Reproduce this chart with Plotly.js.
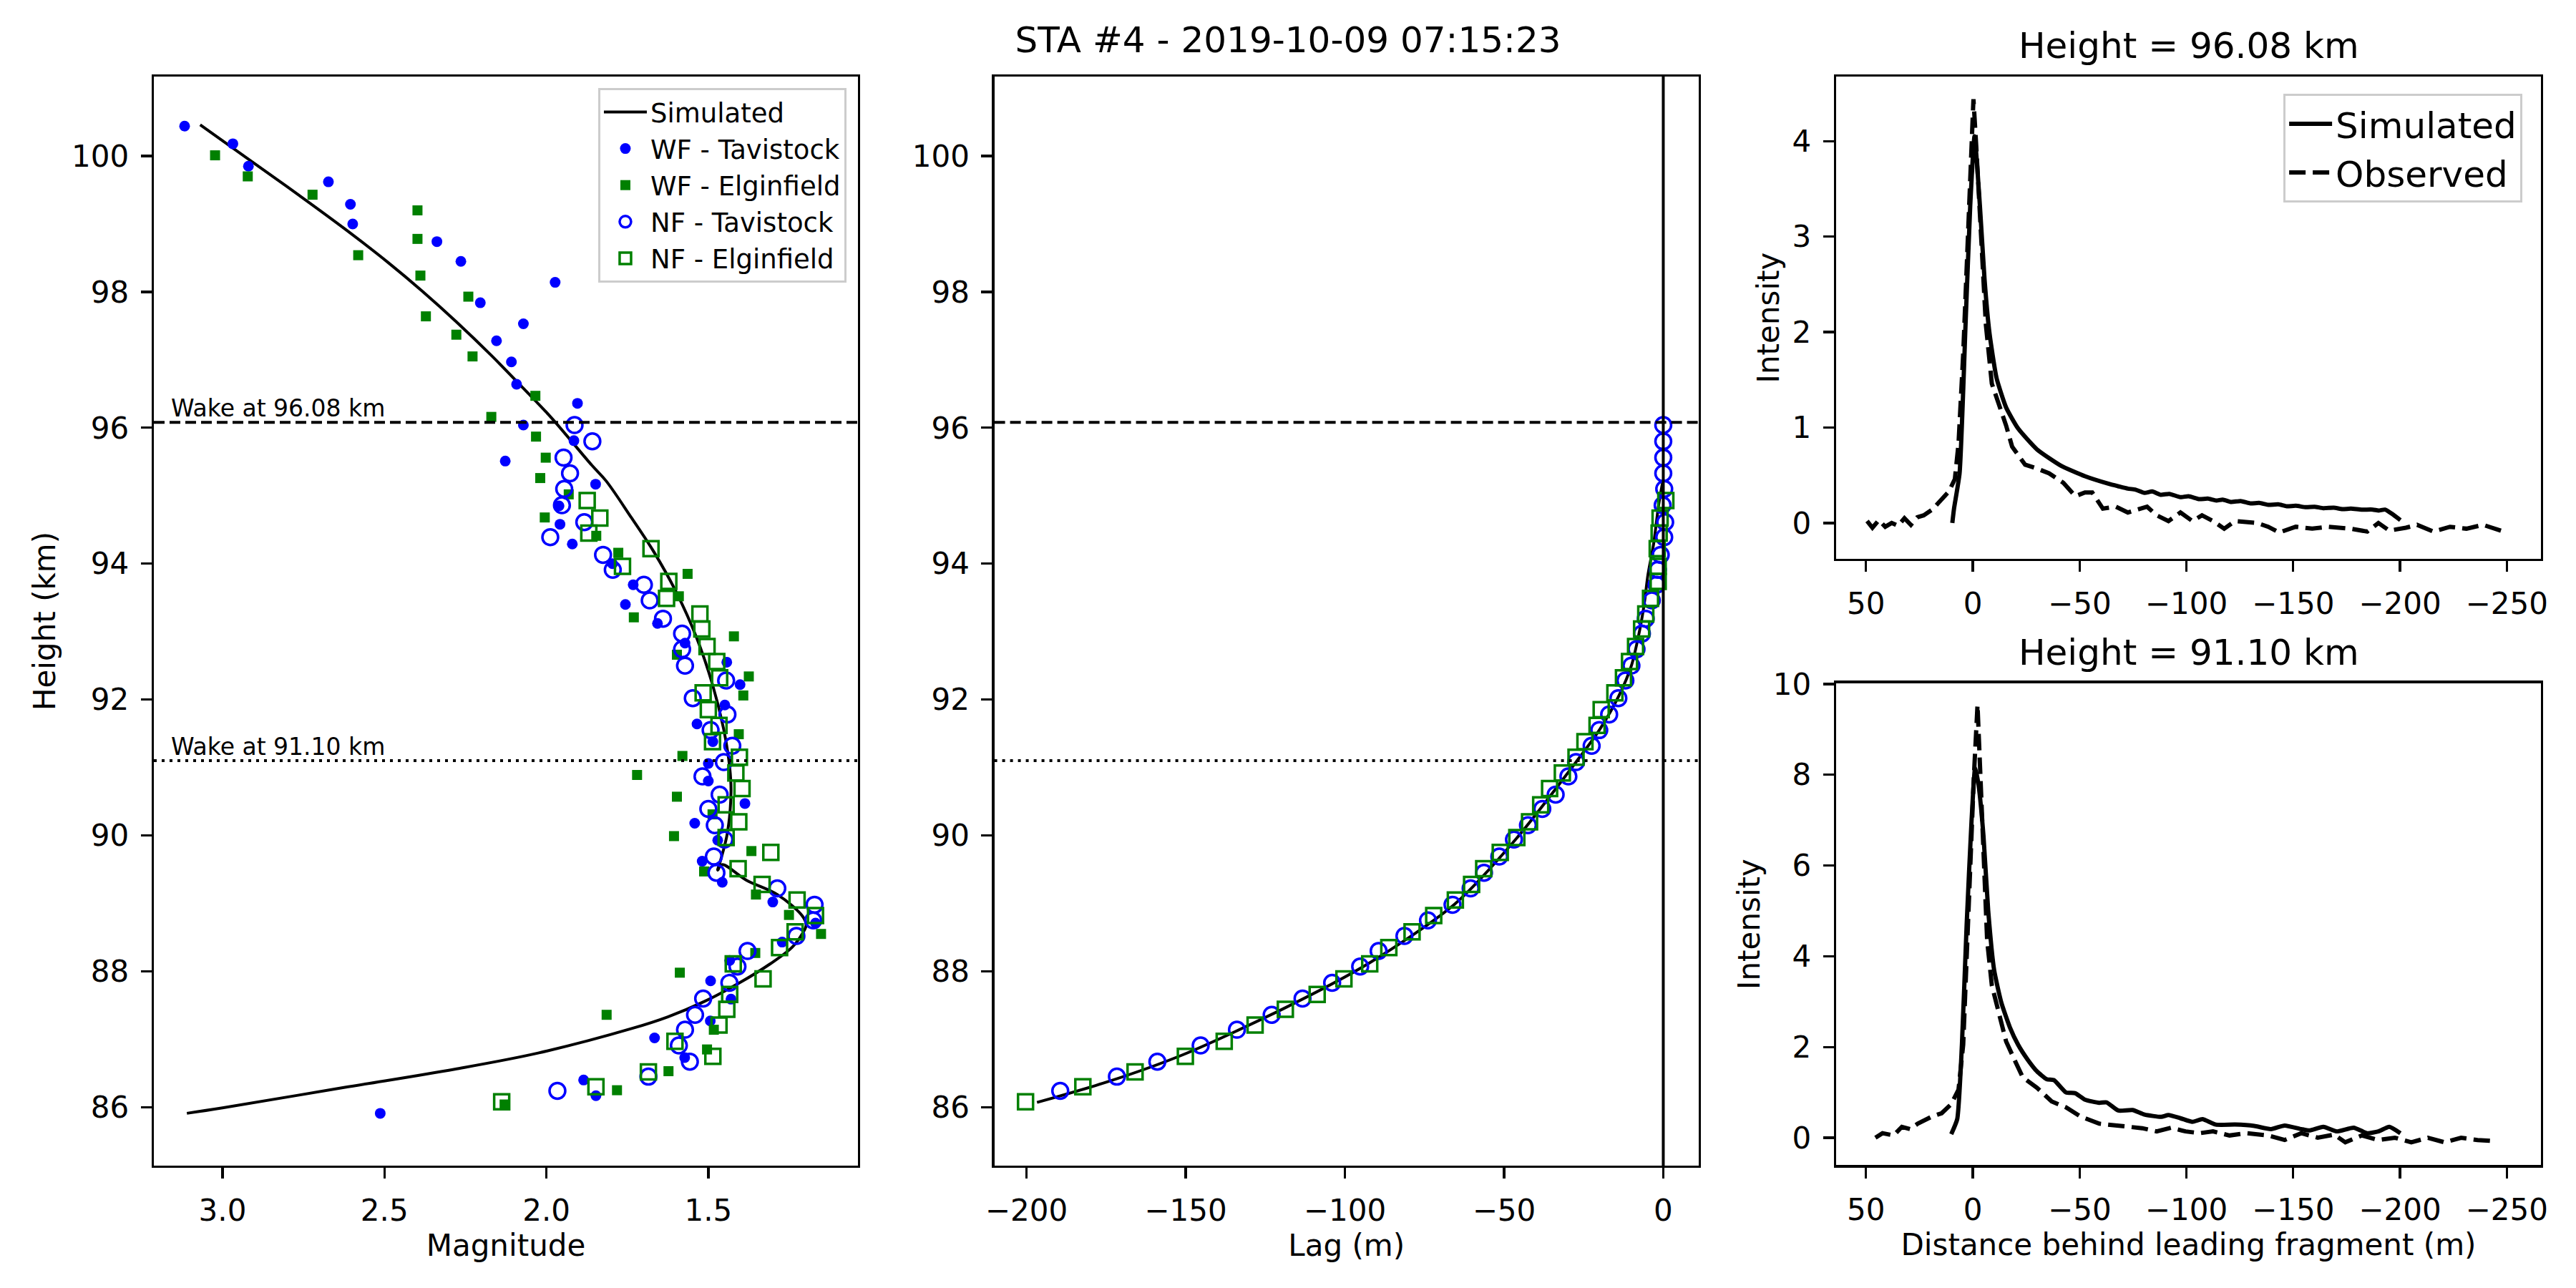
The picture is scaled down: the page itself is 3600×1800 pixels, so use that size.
<!DOCTYPE html>
<html>
<head>
<meta charset="utf-8">
<script src="https://cdn.plot.ly/plotly-3.0.1.min.js"></script>
<style>html,body{margin:0;padding:0;background:#fff;}#chart{width:3600px;height:1800px;}</style>
</head>
<body>
<div id="chart"></div>
<script>
// ---------------- DATA ----------------
const wakeHeights = [96.08, 91.10];

const simHeight = [100.46,99.91,99.42,98.93,98.43,98.01,97.56,97.06,96.57,96.15,95.45,95.22,94.68,94.18,93.59,92.92,92.22,91.55,91.00,90.64,90.04,89.62,89.49,89.57,89.34,89.13,88.81,88.68,88.56,88.35,88.11,87.83,87.55,87.33,87.16,86.80,86.56,86.29,85.99,85.91];
const simMag    = [3.069,2.907,2.763,2.623,2.488,2.383,2.278,2.169,2.069,1.985,1.860,1.816,1.738,1.669,1.600,1.537,1.487,1.452,1.434,1.430,1.441,1.463,1.471,1.458,1.382,1.287,1.209,1.198,1.209,1.242,1.309,1.404,1.515,1.625,1.735,2.023,2.283,2.625,3.000,3.110];

const wfTavHeight = [100.44,100.18,99.85,99.62,99.29,99.00,98.74,98.45,98.14,97.84,97.53,97.28,96.97,96.64,96.36,96.04,95.81,95.51,95.17,94.85,94.58,94.29,94.00,93.69,93.40,93.12,92.83,92.55,92.22,91.92,91.64,91.38,91.06,90.80,90.47,90.18,89.93,89.62,89.31,89.02,88.71,88.43,88.16,87.86,87.59,87.27,87.02,86.73,86.40,86.17,85.91];
const wfTavMag    = [3.117,2.968,2.920,2.673,2.605,2.598,2.338,2.264,1.973,2.204,2.071,2.154,2.108,2.092,1.904,2.071,1.915,2.127,1.848,1.961,1.958,1.920,1.796,1.732,1.756,1.657,1.572,1.443,1.402,1.449,1.535,1.486,1.500,1.500,1.387,1.542,1.471,1.519,1.457,1.301,1.169,1.272,1.434,1.493,1.430,1.494,1.666,1.573,1.885,1.847,2.513];

const wfElgHeight = [100.01,99.70,99.43,99.20,98.78,98.54,98.24,97.93,97.64,97.37,97.05,96.47,96.16,95.87,95.56,95.26,95.02,94.68,94.41,94.16,93.85,93.52,93.21,92.93,92.66,92.34,92.06,91.49,91.17,90.89,90.57,90.31,89.99,89.77,89.47,89.13,88.83,88.55,88.27,87.98,87.36,87.14,86.85,86.53,86.25,86.04];
const wfElgMag    = [3.023,2.922,2.722,2.398,2.398,2.581,2.389,2.241,2.372,2.278,2.228,2.034,2.170,2.032,2.002,2.019,1.931,2.005,1.846,1.778,1.564,1.591,1.730,1.421,1.597,1.375,1.392,1.406,1.580,1.720,1.597,1.487,1.606,1.367,1.513,1.353,1.251,1.152,1.355,1.588,1.814,1.483,1.504,1.623,1.782,2.129];

const nfTavHeight = [96.04,95.80,95.56,95.33,95.10,94.86,94.61,94.39,94.13,93.91,93.69,93.46,93.19,92.97,92.74,92.50,92.28,92.02,91.78,91.55,91.32,91.08,90.87,90.60,90.39,90.15,89.94,89.69,89.45,89.22,88.98,88.75,88.52,88.30,88.07,87.83,87.60,87.36,87.14,86.91,86.67,86.45,86.24];
const nfTavMag    = [1.913,1.858,1.947,1.927,1.945,1.952,1.883,1.988,1.825,1.795,1.699,1.681,1.640,1.581,1.581,1.572,1.445,1.548,1.441,1.493,1.426,1.452,1.518,1.465,1.500,1.480,1.450,1.483,1.475,1.287,1.172,1.176,1.228,1.379,1.410,1.435,1.516,1.541,1.572,1.591,1.557,1.685,1.966];
const nfTavLag    = [0,0,0,0,0.3,-0.2,0.6,0.3,-0.8,-1.7,-2.1,-3.6,-5.5,-6.7,-8.4,-10.0,-11.9,-14.1,-17.0,-20.1,-22.5,-27.4,-29.8,-33.8,-38.0,-42.5,-46.9,-51.5,-56.3,-60.5,-66.2,-73.9,-81.3,-89.4,-95.2,-104.0,-113.3,-123.0,-133.9,-145.3,-158.9,-171.6,-189.4];

const nfElgHeight = [94.93,94.67,94.45,94.22,93.96,93.74,93.49,93.26,93.04,92.78,92.56,92.32,92.10,91.85,91.62,91.38,91.15,90.92,90.69,90.45,90.20,89.97,89.75,89.51,89.28,89.05,88.82,88.58,88.35,88.11,87.89,87.66,87.44,87.21,86.97,86.75,86.52,86.30,86.08];
const nfElgMag    = [1.874,1.835,1.869,1.677,1.765,1.622,1.629,1.526,1.520,1.504,1.474,1.465,1.516,1.500,1.467,1.487,1.404,1.415,1.396,1.445,1.406,1.445,1.307,1.408,1.334,1.226,1.169,1.232,1.280,1.423,1.331,1.434,1.443,1.467,1.603,1.486,1.685,1.847,2.138];
const nfElgLag    = [0.8,-1.0,-1.3,-1.9,-1.6,-1.6,-4.0,-5.5,-6.8,-8.7,-10.6,-12.5,-15.2,-19.5,-20.8,-24.6,-27.4,-31.7,-35.7,-38.5,-42.0,-46.0,-51.2,-56.4,-60.2,-65.3,-72.1,-78.9,-86.2,-92.2,-100.3,-108.7,-118.7,-128.2,-137.9,-150.1,-165.9,-182.3,-200.3];

const simLag       = [-196.7,-174.8,-151.0,-119.3,-92.4,-65.5,-46.4,-27.4,-20.1,-14.0,-10.0,-7.5,-6.0,-4.8,-3.0,-1.5,-0.2];
const simLagHeight = [86.07,86.37,86.77,87.45,88.12,88.99,89.94,91.08,91.55,92.05,92.50,93.00,93.40,93.84,94.30,94.85,95.20];

const sim96Dist = [9.6,8.8,6.2,3.4,1.2,-0.8,-3.3,-5.5,-7.8,-11.1,-15.6,-21.2,-30.1,-41.3,-52.5,-63.7,-68,-72.6,-76,-80.4,-84,-88,-92,-97.2,-101,-106,-110,-114,-117,-121,-125.4,-130,-134,-138.3,-143,-147,-151.2,-156,-160,-164.1,-169,-173,-177,-182,-187.3,-190,-193,-196,-200.2];
const sim96Int  = [0.0,0.15,0.52,2.08,3.33,4.05,3.33,2.55,1.99,1.52,1.21,0.99,0.77,0.60,0.49,0.41,0.385,0.36,0.35,0.315,0.33,0.295,0.305,0.27,0.28,0.25,0.255,0.235,0.245,0.22,0.23,0.205,0.21,0.19,0.195,0.175,0.18,0.165,0.17,0.155,0.16,0.145,0.15,0.14,0.14,0.13,0.14,0.10,0.03];
const obs96Dist = [49.5,47,44,41,38,35,32,29,26,23,19,14.6,11.2,8.4,6.7,4.5,2.3,0.6,-0.3,-1.6,-3.9,-6.1,-8.9,-12.8,-15.6,-18.4,-21.2,-24.5,-30.1,-35.7,-42.4,-48,-52.5,-55.9,-60.9,-67,-72.6,-81.6,-86.1,-91.6,-97.2,-102.8,-107.3,-112.5,-117.7,-122.8,-133.1,-138.3,-143.4,-151.2,-158.9,-166.7,-177,-184.7,-189.9,-195.0,-202.8,-208,-215.7,-223.4,-231.1,-238.9,-250];
const obs96Int  = [0.02,-0.05,0.03,-0.04,0.0,-0.03,0.05,-0.02,0.06,0.08,0.14,0.24,0.33,0.46,0.83,1.77,3.02,3.95,4.44,3.95,3.02,2.08,1.46,1.21,1.02,0.80,0.71,0.61,0.57,0.52,0.42,0.28,0.32,0.32,0.15,0.17,0.11,0.17,0.08,0.02,0.11,0.02,0.08,0.02,-0.06,0.02,0.0,-0.04,-0.10,-0.04,-0.06,-0.04,-0.06,-0.09,0.0,-0.08,-0.05,-0.02,-0.09,-0.04,-0.06,-0.02,-0.10];

const sim91Dist = [10.1,7.3,5.1,2.9,0.6,-1.1,-2.7,-5.0,-7.2,-10.0,-13.4,-17.3,-21.2,-25.7,-30.1,-34.6,-38,-43.6,-48,-52.5,-59.2,-62.6,-68.1,-74.8,-80.4,-88.2,-91.6,-97.2,-102.8,-107.5,-113.8,-122.8,-131.8,-139.6,-146.0,-153.8,-157.6,-164.1,-170.5,-178.3,-184.7,-189.9,-195.0,-200.2];
const sim91Int  = [0.08,0.41,2.05,4.68,6.98,8.16,7.77,6.65,5.01,3.69,2.97,2.44,2.05,1.72,1.46,1.29,1.27,1.00,0.98,0.84,0.77,0.78,0.60,0.61,0.51,0.46,0.50,0.43,0.35,0.41,0.29,0.29,0.26,0.19,0.27,0.19,0.16,0.24,0.14,0.22,0.10,0.14,0.24,0.10];
const obs91Dist = [45.6,42.3,37.1,33.2,29.4,25.8,19.0,14.6,10.1,6.7,4.5,2.9,1.2,-0.5,-2.2,-3.5,-5.0,-6.7,-8.9,-12.2,-15.6,-20.1,-23.4,-30.1,-36.9,-43.6,-50.3,-59.2,-66,-72.6,-79.3,-86.1,-92.8,-99.6,-106.2,-112.5,-120.2,-128.0,-138.3,-146.0,-153.8,-161.5,-169.2,-174.4,-182.1,-189.9,-197.6,-205.3,-213.1,-220.8,-228.6,-236.3,-242.7];
const obs91Int  = [0.0,0.10,0.05,0.24,0.19,0.31,0.47,0.54,0.74,1.06,2.05,4.02,5.99,7.97,9.54,7.97,5.99,4.35,3.36,2.71,2.12,1.66,1.33,1.10,0.80,0.67,0.47,0.31,0.28,0.24,0.21,0.14,0.22,0.14,0.10,0.14,0.05,0.10,0.05,-0.05,0.10,0.0,0.07,-0.10,0.05,-0.05,0.0,-0.10,0.0,-0.10,0.0,-0.05,-0.07];

const suptitleText = 'STA #4 - 2019-10-09 07:15:23';
const profileTitles = ['Height = 96.08 km', 'Height = 91.10 km'];
const wakeLabels = ['Wake at 96.08 km', 'Wake at 91.10 km'];

// ---------------- STYLE ----------------
const FONT = 'DejaVu Sans, Verdana, sans-serif';
const BLUE = '#0000ff', GREEN = '#008000';
const tickFont = {family: FONT, size: 42, color: '#000'};
const labelFont = {family: FONT, size: 42, color: '#000'};

function axisBase(extra) {
  return Object.assign({
    showline: true, mirror: true, linecolor: '#000', linewidth: 3.3,
    ticks: 'outside', ticklen: 15, tickwidth: 3.3, tickcolor: '#000',
    showgrid: false, zeroline: false, automargin: false,
    tickfont: tickFont, ticklabelstandoff: 8
  }, extra);
}

const traces = [
  // Left panel
  {x: simMag, y: simHeight, xaxis: 'x', yaxis: 'y', type: 'scatter', mode: 'lines', name: 'Simulated',
   line: {color: '#000', width: 4, shape: 'spline', smoothing: 1.0}, legend: 'legend'},
  {x: wfTavMag, y: wfTavHeight, xaxis: 'x', yaxis: 'y', type: 'scatter', mode: 'markers', name: 'WF - Tavistock',
   marker: {color: BLUE, symbol: 'circle', size: 15}, legend: 'legend'},
  {x: wfElgMag, y: wfElgHeight, xaxis: 'x', yaxis: 'y', type: 'scatter', mode: 'markers', name: 'WF - Elginfield',
   marker: {color: GREEN, symbol: 'square', size: 14}, legend: 'legend'},
  {x: nfTavMag, y: nfTavHeight, xaxis: 'x', yaxis: 'y', type: 'scatter', mode: 'markers', name: 'NF - Tavistock',
   marker: {color: BLUE, symbol: 'circle-open', size: 22, line: {width: 3.5, color: BLUE}}, legend: 'legend'},
  {x: nfElgMag, y: nfElgHeight, xaxis: 'x', yaxis: 'y', type: 'scatter', mode: 'markers', name: 'NF - Elginfield',
   marker: {color: GREEN, symbol: 'square-open', size: 21, line: {width: 3.5, color: GREEN}}, legend: 'legend'},
  // Middle panel
  {x: simLag, y: simLagHeight, xaxis: 'x2', yaxis: 'y2', type: 'scatter', mode: 'lines', showlegend: false,
   line: {color: '#000', width: 4, shape: 'spline', smoothing: 0.8}},
  {x: nfTavLag, y: nfTavHeight, xaxis: 'x2', yaxis: 'y2', type: 'scatter', mode: 'markers', showlegend: false,
   marker: {color: BLUE, symbol: 'circle-open', size: 22, line: {width: 3.5, color: BLUE}}},
  {x: nfElgLag, y: nfElgHeight, xaxis: 'x2', yaxis: 'y2', type: 'scatter', mode: 'markers', showlegend: false,
   marker: {color: GREEN, symbol: 'square-open', size: 21, line: {width: 3.5, color: GREEN}}},
  // Top right
  {x: sim96Dist, y: sim96Int, xaxis: 'x3', yaxis: 'y3', type: 'scatter', mode: 'lines', name: 'Simulated',
   line: {color: '#000', width: 6, shape: 'spline', smoothing: 0.5}, legend: 'legend2'},
  {x: obs96Dist, y: obs96Int, xaxis: 'x3', yaxis: 'y3', type: 'scatter', mode: 'lines', name: 'Observed',
   line: {color: '#000', width: 6, dash: '23px,10px'}, legend: 'legend2'},
  // Bottom right
  {x: sim91Dist, y: sim91Int, xaxis: 'x4', yaxis: 'y4', type: 'scatter', mode: 'lines', showlegend: false,
   line: {color: '#000', width: 6, shape: 'spline', smoothing: 0.5}},
  {x: obs91Dist, y: obs91Int, xaxis: 'x4', yaxis: 'y4', type: 'scatter', mode: 'lines', showlegend: false,
   line: {color: '#000', width: 6, dash: '23px,10px'}}
];

const hDomain = [0.095, 0.9406];
const yRange = [85.14, 101.17];
const xRightRange = [64, -266];

const shapes = [];
['x', 'x2'].forEach((xa, i) => {
  const ya = i === 0 ? 'y' : 'y2';
  shapes.push({type: 'line', xref: xa + ' domain', x0: 0, x1: 1, yref: ya, y0: wakeHeights[0], y1: wakeHeights[0],
               line: {color: '#000', width: 4, dash: '15px,7px'}});
  shapes.push({type: 'line', xref: xa + ' domain', x0: 0, x1: 1, yref: ya, y0: wakeHeights[1], y1: wakeHeights[1],
               line: {color: '#000', width: 4, dash: '4px,7px'}});
});
shapes.push({type: 'line', xref: 'x2', x0: 0, x1: 0, yref: 'y2 domain', y0: 0, y1: 1, line: {color: '#000', width: 4}});

const annotations = [
  {xref: 'x', yref: 'y', x: 3.163, y: wakeHeights[0], xanchor: 'left', yanchor: 'bottom', yshift: -2, showarrow: false,
   text: wakeLabels[0], font: {family: FONT, size: 33, color: '#000'}},
  {xref: 'x', yref: 'y', x: 3.163, y: wakeHeights[1], xanchor: 'left', yanchor: 'bottom', yshift: -2, showarrow: false,
   text: wakeLabels[1], font: {family: FONT, size: 33, color: '#000'}},
  {xref: 'x3 domain', yref: 'y3 domain', x: 0.5, y: 1, xanchor: 'center', yanchor: 'bottom', yshift: 12, showarrow: false,
   text: profileTitles[0], font: {family: FONT, size: 50, color: '#000'}},
  {xref: 'x4 domain', yref: 'y4 domain', x: 0.5, y: 1, xanchor: 'center', yanchor: 'bottom', yshift: 12, showarrow: false,
   text: profileTitles[1], font: {family: FONT, size: 50, color: '#000'}}
];

const layout = {
  width: 3600, height: 1800, autosize: false,
  margin: {l: 0, r: 0, t: 0, b: 0},
  paper_bgcolor: '#fff', plot_bgcolor: '#fff',
  font: {family: FONT, color: '#000'},
  title: {text: suptitleText, x: 0.5, xanchor: 'center', xref: 'paper', y: 0.969, yanchor: 'middle', yref: 'paper',
          font: {family: FONT, size: 50, color: '#000'}},
  xaxis: axisBase({domain: [0.05972, 0.33306], anchor: 'y', range: [3.212, 1.038], tickvals: [3.0, 2.5, 2.0, 1.5],
                   ticktext: ['3.0', '2.5', '2.0', '1.5'],
                   title: {text: 'Magnitude', font: labelFont, standoff: 0}}),
  yaxis: axisBase({domain: hDomain, anchor: 'x', range: yRange, dtick: 2,
                   title: {text: 'Height (km)', font: labelFont, standoff: 10}}),
  xaxis2: axisBase({domain: [0.3860, 0.6594], anchor: 'y2', range: [-210.1, 11.1], dtick: 50,
                    title: {text: 'Lag (m)', font: labelFont, standoff: 0}}),
  yaxis2: axisBase({domain: hDomain, anchor: 'x2', range: yRange, dtick: 2}),
  xaxis3: axisBase({domain: [0.71278, 0.98639], anchor: 'y3', range: xRightRange, dtick: 50}),
  yaxis3: axisBase({domain: [0.56611, 0.94056], anchor: 'x3', range: [-0.376, 4.677], dtick: 1,
                    title: {text: 'Intensity', font: labelFont, standoff: 6}}),
  xaxis4: axisBase({domain: [0.71278, 0.98639], anchor: 'y4', range: xRightRange, dtick: 50,
                    title: {text: 'Distance behind leading fragment (m)', font: labelFont, standoff: 0}}),
  yaxis4: axisBase({domain: [0.09539, 0.46961], anchor: 'x4', range: [-0.604, 10.02], dtick: 2,
                    title: {text: 'Intensity', font: labelFont, standoff: 6}}),
  legend: {x: 0.3286, y: 0.9317, xanchor: 'right', yanchor: 'top', xref: 'paper', yref: 'paper',
           bgcolor: 'rgba(255,255,255,0.8)', bordercolor: '#cccccc', borderwidth: 3,
           font: {family: FONT, size: 37, color: '#000'}, tracegroupgap: 0, itemwidth: 60},
  legend2: {x: 0.9792, y: 0.9272, xanchor: 'right', yanchor: 'top', xref: 'paper', yref: 'paper',
            bgcolor: 'rgba(255,255,255,0.8)', bordercolor: '#cccccc', borderwidth: 3,
            font: {family: FONT, size: 50, color: '#000'}, tracegroupgap: 0, itemwidth: 60},
  shapes: shapes,
  annotations: annotations,
  showlegend: true
};

Plotly.newPlot('chart', traces, layout, {staticPlot: true, displayModeBar: false});
</script>
</body>
</html>
